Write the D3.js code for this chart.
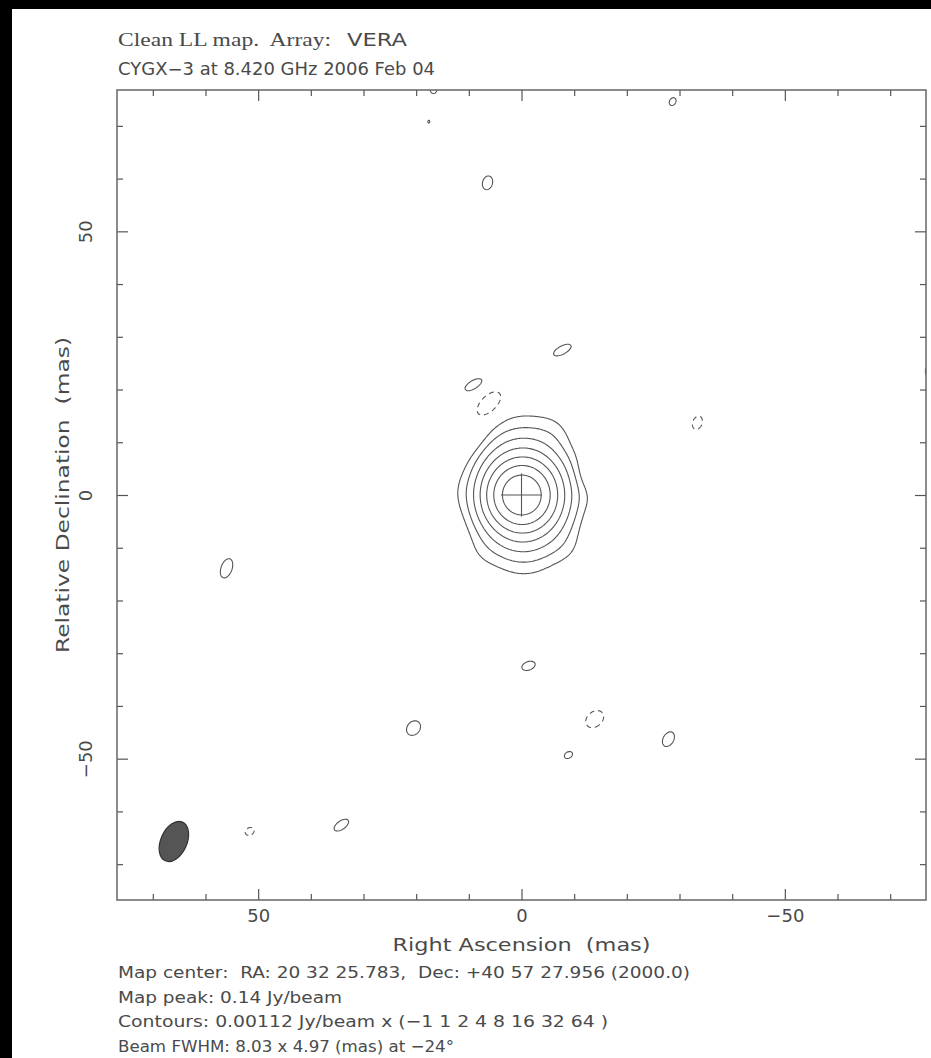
<!DOCTYPE html>
<html>
<head>
<meta charset="utf-8">
<script src="https://cdn.jsdelivr.net/npm/d3@7"></script>
<style>
  html, body { margin: 0; padding: 0; background: #000; }
  svg { display: block; }
  text { fill: #4a4a4a; white-space: pre; }
</style>
</head>
<body>
<svg id="chart" width="931" height="1058"></svg>
<script>
// ---- Map description -------------------------------------------------------
const contourUnit = 0.00112;                        // Jy/beam
const contourMultipliers = [-1, 1, 2, 4, 8, 16, 32, 64];
const mapHalfWidth = 76.8;                          // mas, map spans +/- this
const majorTicks = [-50, 0, 50];
const minorTicks = [-70, -60, -40, -30, -20, -10, 10, 20, 30, 40, 60, 70];
const tickLabels = { "50": "50", "0": "0", "-50": "\u221250" };

// Restoring beam (FWHM, mas; position angle in degrees) and where it is drawn
const beamMajor = 8.03, beamMinor = 4.97, beamPA = -24;
const beamRA = 66.0, beamDec = -65.7;

// Clean-component model (peak in contour units, sigmas in mas, PA in deg)
// core, two wider layers, edge structure, then isolated faint features
const compRA     = [0, -0.3, -0.5, -6.1, -11.8, -12.2, -8.7, 11.6, 7.8, 9.5,
                    6.45, -7.78, 9.11, 6.07, -33.4, 56.0, -1.33, 20.5, -13.9, -27.9, -8.92, 51.6, 34.2, -28.7, 17.6, 16.7, -77.4];
const compDec    = [0, 0, 0, 12.1, 4.0, -0.6, -10.0, 0.5, -11.2, 11.0,
                    59.2, 27.5, 20.9, 17.3, 13.7, -13.9, -32.4, -44.2, -42.5, -46.3, -49.3, -63.8, -62.6, 74.6, 70.8, 77.2, 23.5];
const compPeak   = [92, 30, 3, 0.4, -0.3, 0.25, 0.4, 0.35, 0.3, -0.35,
                    1.3, 1.3, 1.3, -2.0, -1.3, 1.3, 1.3, 1.3, -1.3, 1.3, 1.3, -1.3, 1.3, 1.3, 1.02, 1.3, 1.3];
const compSigMaj = [2.9, 4.8, 9.0, 2.5, 2.0, 2.0, 2.5, 3.0, 2.5, 2.5,
                    1.84, 2.48, 2.35, 2.76, 1.8, 2.62, 1.8, 2.07, 2.62, 2.07, 1.17, 1.24, 2.2, 1.1, 1.5, 1.5, 1.5];
const compSigMin = [2.9, 4.2, 5.7, 2.5, 2.0, 2.0, 2.5, 2.0, 2.5, 2.5,
                    1.31, 1.05, 1.05, 1.52, 1.24, 1.45, 1.1, 1.66, 1.93, 1.38, 0.83, 0.97, 1.1, 0.83, 1.0, 1.0, 1.0];
const compPA     = [0, 0, 0, 0, 0, 0, 0, 0, 0, 0,
                    -15, -62, -60, -45, -20, -20, -70, -40, -50, -30, -60, -60, -55, -30, 0, 0, 0];

// Peak marker half-size (mas)
const crossHalfRA = 3.9, crossHalfDec = 4.1;

const titleLine1Serif = "Clean LL map.  Array:";
const titleLine1Sans = "VERA";
const titleLine2 = "CYGX\u22123 at 8.420 GHz 2006 Feb 04";
const xAxisTitle = "Right Ascension  (mas)";
const yAxisTitle = "Relative Declination  (mas)";
const footerLines = [
  "Map center:  RA: 20 32 25.783,  Dec: +40 57 27.956 (2000.0)",
  "Map peak: 0.14 Jy/beam",
  "Contours: 0.00112 Jy/beam x (\u22121 1 2 4 8 16 32 64 )",
  "Beam FWHM: 8.03 x 4.97 (mas) at \u221224\u00b0"
];
const footerWidths = [572, 224, 490, 336];

// ---- Layout ---------------------------------------------------------------
const svg = d3.select("#chart");
const W = 931, H = 1058;
const plot = { left: 117, top: 90, right: 926, bottom: 900 };
const ink = "#555";
const sansFont = "'DejaVu Sans', 'Liberation Sans', sans-serif";
const serifFont = "'Liberation Serif', 'DejaVu Serif', serif";

// paper sheet on black
svg.append("rect").attr("width", W).attr("height", H).attr("fill", "#000");
svg.append("rect").attr("x", 12).attr("y", 9).attr("width", W - 12).attr("height", H - 9).attr("fill", "#fff");

const x = d3.scaleLinear().domain([mapHalfWidth, -mapHalfWidth]).range([plot.left, plot.right]);
const y = d3.scaleLinear().domain([mapHalfWidth, -mapHalfWidth]).range([plot.top, plot.bottom]);

// ---- Brightness grid from the component model -----------------------------
const step = 0.2;
const n = Math.round(2 * mapHalfWidth / step) + 1;
const grid = new Float64Array(n * n);
compRA.forEach((ra0, k) => {
  const th = compPA[k] * Math.PI / 180, s = Math.sin(th), c = Math.cos(th);
  const sa = compSigMaj[k], sb = compSigMin[k], pk = compPeak[k] * contourUnit;
  const reach = 6 * sa;
  const i0 = Math.max(0, Math.floor((mapHalfWidth - (ra0 + reach)) / step));
  const i1 = Math.min(n - 1, Math.ceil((mapHalfWidth - (ra0 - reach)) / step));
  const j0 = Math.max(0, Math.floor((mapHalfWidth - (compDec[k] + reach)) / step));
  const j1 = Math.min(n - 1, Math.ceil((mapHalfWidth - (compDec[k] - reach)) / step));
  for (let j = j0; j <= j1; j++) {
    const dy = (mapHalfWidth - j * step) - compDec[k];
    for (let i = i0; i <= i1; i++) {
      const dx = (mapHalfWidth - i * step) - ra0;
      const a = dx * s + dy * c, b = dx * c - dy * s;
      grid[j * n + i] += pk * Math.exp(-0.5 * (a * a / (sa * sa) + b * b / (sb * sb)));
    }
  }
});
const negGrid = grid.map(v => -v);

const posLevels = contourMultipliers.filter(m => m > 0).map(m => m * contourUnit);
const negLevels = contourMultipliers.filter(m => m < 0).map(m => -m * contourUnit);

const gridToScreen = d3.geoTransform({
  point(gx, gy) {
    this.stream.point(x(mapHalfWidth - (gx - 0.5) * step), y(mapHalfWidth - (gy - 0.5) * step));
  }
});
const path = d3.geoPath(gridToScreen);

svg.append("clipPath").attr("id", "plotClip")
  .append("rect").attr("x", plot.left).attr("y", plot.top)
  .attr("width", plot.right - plot.left).attr("height", plot.bottom - plot.top);

const mapG = svg.append("g").attr("clip-path", "url(#plotClip)");

const contourGen = d3.contours().size([n, n]);
mapG.append("g").selectAll("path")
  .data(contourGen.thresholds(posLevels)(grid))
  .join("path")
  .attr("d", path)
  .attr("fill", "none").attr("stroke", ink).attr("stroke-width", 1.1);

mapG.append("g").selectAll("path")
  .data(contourGen.thresholds(negLevels)(negGrid))
  .join("path")
  .attr("d", path)
  .attr("fill", "none").attr("stroke", ink).attr("stroke-width", 1.1)
  .attr("stroke-dasharray", "5,4");

// peak cross
mapG.append("line").attr("x1", x(crossHalfRA)).attr("x2", x(-crossHalfRA))
  .attr("y1", y(0)).attr("y2", y(0)).attr("stroke", ink).attr("stroke-width", 1.1);
mapG.append("line").attr("x1", x(0)).attr("x2", x(0))
  .attr("y1", y(crossHalfDec)).attr("y2", y(-crossHalfDec)).attr("stroke", ink).attr("stroke-width", 1.1);

// restoring beam
mapG.append("ellipse")
  .attr("cx", x(beamRA)).attr("cy", y(beamDec))
  .attr("rx", x(0) - x(beamMinor / 2)).attr("ry", y(0) - y(beamMajor / 2))
  .attr("transform", `rotate(${-beamPA},${x(beamRA)},${y(beamDec)})`)
  .attr("fill", "#555").attr("stroke", "#333").attr("stroke-width", 1.2);

// ---- Axes (ticks on all four sides, pointing inwards) ----------------------
const majorLen = 11, minorLen = 6;
function addAxis(axisFn, scale, values, len, transform, labels) {
  const ax = axisFn(scale).tickValues(values).tickSize(-len).tickPadding(9)
    .tickFormat(labels ? d => tickLabels[String(d)] : () => "");
  const g = svg.append("g").attr("transform", transform).call(ax);
  g.select(".domain").remove();
  g.selectAll("line").attr("stroke", ink).attr("stroke-width", 1.2);
  g.selectAll("text").style("font-family", sansFont).style("font-size", "18px").attr("fill", "#4a4a4a");
  return g;
}
addAxis(d3.axisBottom, x, minorTicks, minorLen, `translate(0,${plot.bottom})`, false);
addAxis(d3.axisBottom, x, majorTicks, majorLen, `translate(0,${plot.bottom})`, true);
addAxis(d3.axisTop, x, minorTicks, minorLen, `translate(0,${plot.top})`, false);
addAxis(d3.axisTop, x, majorTicks, majorLen, `translate(0,${plot.top})`, false);
addAxis(d3.axisRight, y, minorTicks, minorLen, `translate(${plot.right},0)`, false);
addAxis(d3.axisRight, y, majorTicks, majorLen, `translate(${plot.right},0)`, false);
addAxis(d3.axisLeft, y, minorTicks, minorLen, `translate(${plot.left},0)`, false);
const yMajor = addAxis(d3.axisLeft, y, majorTicks, majorLen, `translate(${plot.left},0)`, true);
// declination labels read upwards
yMajor.selectAll(".tick text")
  .attr("x", null)
  .attr("text-anchor", "middle")
  .attr("transform", "translate(-31,0) rotate(-90)")
  .attr("dy", "0.36em");

// frame
svg.append("rect")
  .attr("x", plot.left).attr("y", plot.top)
  .attr("width", plot.right - plot.left).attr("height", plot.bottom - plot.top)
  .attr("fill", "none").attr("stroke", "#666").attr("stroke-width", 1.5);

// ---- Text ------------------------------------------------------------------
svg.append("text").attr("x", 118).attr("y", 46)
  .style("font-family", serifFont).style("font-size", "19px")
  .attr("textLength", 213).attr("lengthAdjust", "spacingAndGlyphs")
  .text(titleLine1Serif);
svg.append("text").attr("x", 347).attr("y", 46)
  .style("font-family", sansFont).style("font-size", "17px")
  .attr("textLength", 60).attr("lengthAdjust", "spacingAndGlyphs")
  .text(titleLine1Sans);

svg.append("text").attr("x", 118).attr("y", 75)
  .style("font-family", sansFont).style("font-size", "17px")
  .attr("textLength", 317).attr("lengthAdjust", "spacingAndGlyphs")
  .text(titleLine2);

svg.append("text").attr("x", (plot.left + plot.right) / 2).attr("y", 951)
  .attr("text-anchor", "middle")
  .style("font-family", sansFont).style("font-size", "18px")
  .attr("textLength", 258).attr("lengthAdjust", "spacingAndGlyphs")
  .text(xAxisTitle);

svg.append("text")
  .attr("transform", `translate(69,${y(0)}) rotate(-90)`)
  .attr("text-anchor", "middle")
  .style("font-family", sansFont).style("font-size", "18px")
  .attr("textLength", 316).attr("lengthAdjust", "spacingAndGlyphs")
  .text(yAxisTitle);

svg.selectAll("text.footer").data(footerLines).join("text")
  .attr("class", "footer")
  .attr("x", 118).attr("y", (d, i) => 978 + i * 24.5)
  .style("font-family", sansFont).style("font-size", "16px")
  .attr("textLength", (d, i) => footerWidths[i]).attr("lengthAdjust", "spacingAndGlyphs")
  .text(d => d);
</script>
</body>
</html>
